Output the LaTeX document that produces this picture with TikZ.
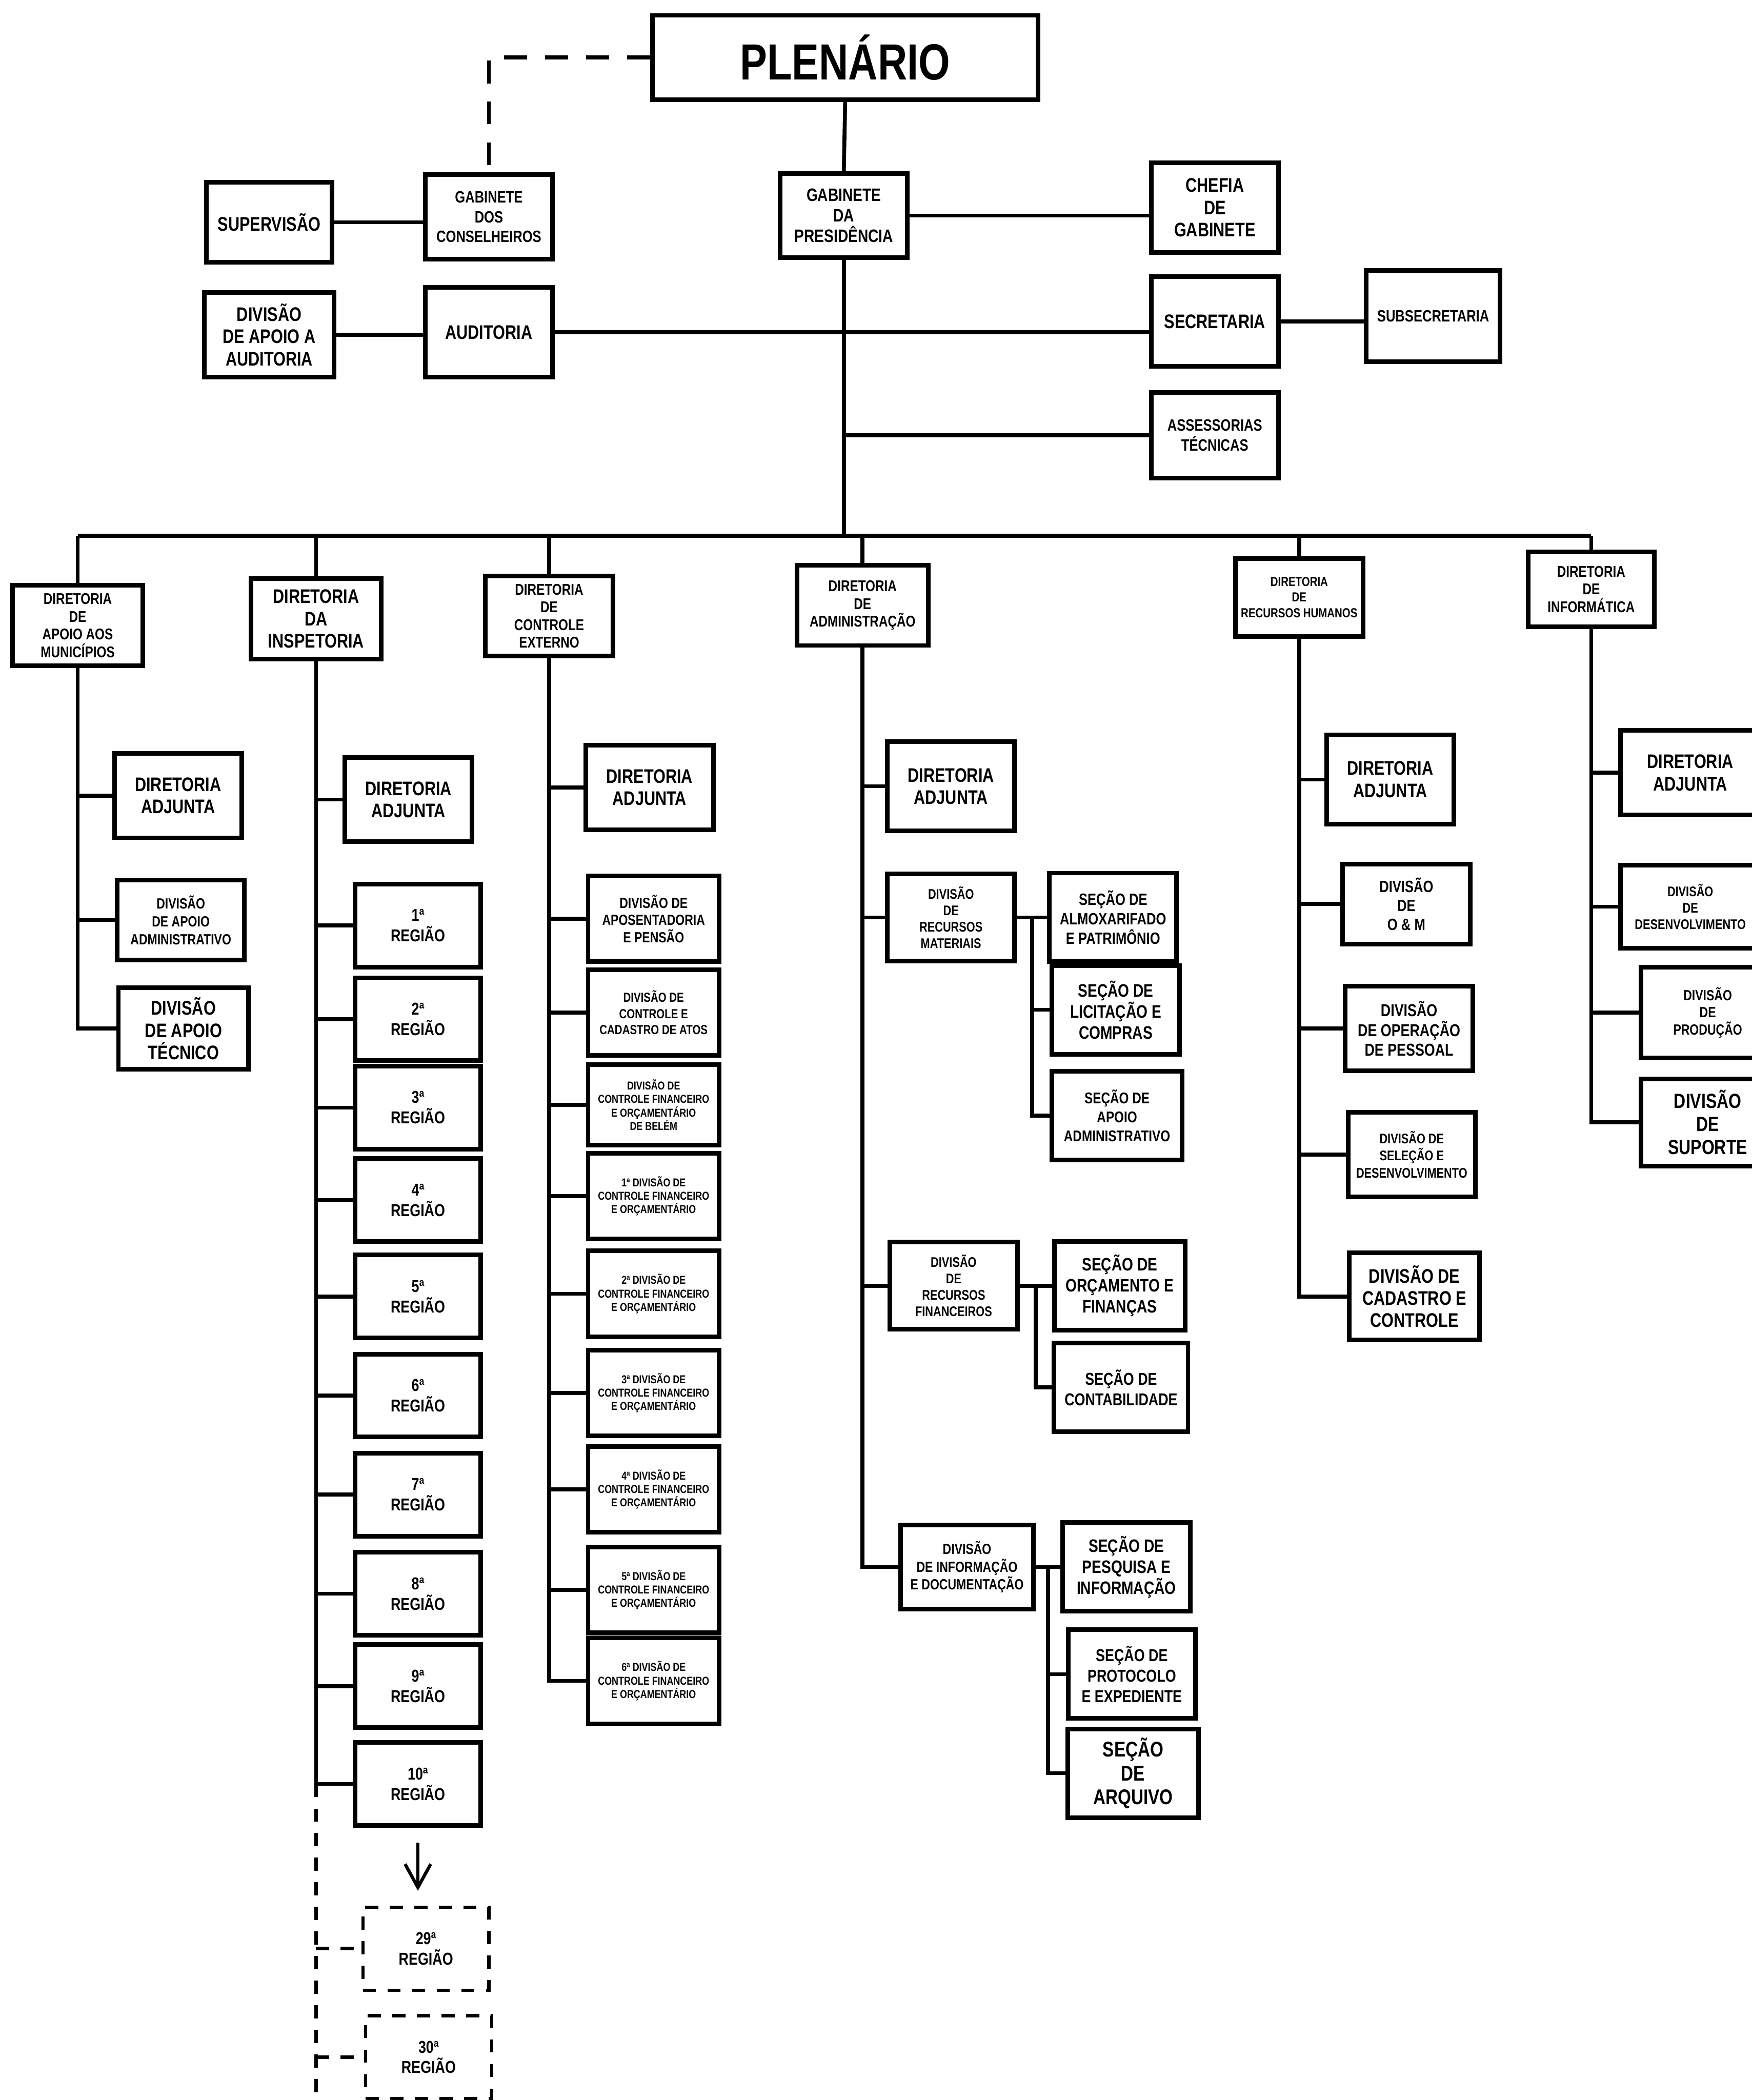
\documentclass[tikz,border=0pt]{standalone}
\usepackage{fontspec}
\setmainfont[FakeStretch=0.8]{Liberation Sans}
\usetikzlibrary{arrows.meta, positioning, calc}

\begin{document}
\begin{tikzpicture}[
    x=0.02872cm, y=-0.02872cm,
    >={Straight Barb[length=5mm, width=5.5mm]},
    orgbox/.style={draw, line width=2.8pt, minimum width=2.73cm, minimum height=1.81cm, inner sep=1pt, align=center, font=\bfseries\fontsize{12}{13.5}\selectfont},
    dirbox/.style={orgbox, minimum height=1.72cm, font=\bfseries\fontsize{9.5}{10.8}\selectfont},
    regbox/.style={orgbox, minimum width=2.70cm, minimum height=1.78cm, font=\bfseries\fontsize{10.5}{12.5}\selectfont},
    ghostbox/.style={regbox, line width=2pt, dash pattern=on 8pt off 7pt},
    finbox/.style={orgbox, minimum width=2.81cm, minimum height=1.84cm, font=\bfseries\fontsize{7}{8.2}\selectfont},
    secbox/.style={orgbox, minimum height=1.9cm, font=\bfseries\fontsize{11}{12.8}\selectfont},
    link/.style={line width=2.4pt},
    ghostlink/.style={line width=2.2pt, dash pattern=on 8pt off 7pt},
]
    \fill[white] (0,0) rectangle (1308,1568);
    \useasboundingbox (0,0) rectangle (1308,1568);

    % top of the chart
    \node[orgbox, minimum width=8.27cm, font=\bfseries\fontsize{31}{33}\selectfont] (plen) at (631,43) {PLENÁRIO};
    \node[orgbox, font=\bfseries\fontsize{11}{12.5}\selectfont] (gabpres) at (630,161) {GABINETE\\DA\\PRESIDÊNCIA};
    \node[orgbox, minimum height=1.92cm] (chefia) at (907,155) {CHEFIA\\DE\\GABINETE};
    \node[orgbox, minimum width=2.70cm, minimum height=1.72cm] (superv) at (201,166) {SUPERVISÃO};
    \node[orgbox, font=\bfseries\fontsize{10}{12}\selectfont] (gabcons) at (365,162) {GABINETE\\DOS\\CONSELHEIROS};
    \node[orgbox, minimum width=2.79cm] (divaud) at (201,250) {DIVISÃO\\DE APOIO A\\AUDITORIA};
    \node[orgbox, minimum height=1.92cm] (audit) at (365,248) {AUDITORIA};
    \node[orgbox, minimum height=1.92cm] (secret) at (907,240) {SECRETARIA};
    \node[orgbox, minimum width=2.87cm, minimum height=1.95cm, font=\bfseries\fontsize{10}{12}\selectfont] (subsec) at (1070,236) {SUBSECRETARIA};
    \node[orgbox, minimum height=1.84cm, font=\bfseries\fontsize{10}{12}\selectfont] (assess) at (907,325) {ASSESSORIAS\\TÉCNICAS};

    \draw[link, dash pattern=on 14pt off 11pt] (plen.west) -| (gabcons.north);
    \draw[link] (plen.south) -- (gabpres.north);
    \draw[link] (gabpres.east) -- (gabpres.east -| chefia.west);
    \draw[link] (superv.east) -- (superv.east -| gabcons.west);
    \draw[link] (divaud.east) -- (divaud.east -| audit.west);
    \draw[link] (audit.east) -- (audit.east -| secret.west);
    \draw[link] (secret.east) -- (secret.east -| subsec.west);
    \draw[link] (assess.west -| gabpres.south) -- (assess.west);

    % directorates
    \coordinate (busL) at (58,400);
    \coordinate (busR) at (1188,400);
    \draw[link] (gabpres.south) -- (gabpres.south |- busL);
    \draw[link] (busL) -- (busR);

    \node[dirbox, minimum width=2.79cm] (dam) at (58,467) {DIRETORIA\\DE\\APOIO AOS\\MUNICÍPIOS};
    \node[dirbox, minimum width=2.79cm, font=\bfseries\fontsize{12}{13.5}\selectfont] (dins) at (236,462) {DIRETORIA\\DA\\INSPETORIA};
    \node[dirbox] (dce) at (410,460) {DIRETORIA\\DE\\CONTROLE\\EXTERNO};
    \node[dirbox, minimum width=2.81cm] (dadm) at (644,452) {DIRETORIA\\DE\\ADMINISTRAÇÃO};
    \node[dirbox, minimum height=1.67cm, font=\bfseries\fontsize{8}{9.5}\selectfont] (drh) at (970,446) {DIRETORIA\\DE\\RECURSOS HUMANOS};
    \node[dirbox, minimum width=2.70cm, minimum height=1.61cm] (dinf) at (1188,440) {DIRETORIA\\DE\\INFORMÁTICA};
    \foreach \d in {dam, dins, dce, dadm, drh, dinf}
        \draw[link] (\d.north) -- (\d.north |- busL);

    % apoio aos municipios
    \node[orgbox] (adj1) at (133,594) {DIRETORIA\\ADJUNTA};
    \node[orgbox, minimum height=1.72cm, font=\bfseries\fontsize{9}{11}\selectfont] (apadm1) at (135,687) {DIVISÃO\\DE APOIO\\ADMINISTRATIVO};
    \node[orgbox, minimum width=2.79cm, minimum height=1.75cm] (aptec1) at (137,768) {DIVISÃO\\DE APOIO\\TÉCNICO};
    \foreach \c in {adj1, apadm1, aptec1}
        \draw[link] (dam.south) |- (\c.west);

    % inspetoria
    \node[orgbox] (adj2) at (305,597) {DIRETORIA\\ADJUNTA};
    \draw[link] (dins.south) |- (adj2.west);
    \foreach \n/\y in {1/691, 2/761, 3/827, 4/896, 5/968, 6/1042, 7/1116, 8/1190, 9/1259, 10/1332} {
        \node[regbox] (reg\n) at (312,\y) {{\n}ª\\REGIÃO};
        \draw[link] (dins.south) |- (reg\n.west);
    }
    \coordinate (insEnd) at (236,1568);
    \node[ghostbox] (reg29) at (318,1455) {29ª\\REGIÃO};
    \node[ghostbox] (reg30) at (320,1536) {30ª\\REGIÃO};
    \draw[ghostlink] (reg10.west -| insEnd) -- (insEnd);
    \draw[ghostlink] (reg29.west -| insEnd) -- (reg29.west);
    \draw[ghostlink] (reg30.west -| insEnd) -- (reg30.west);
    \draw[->, line width=2pt, shorten <=9pt, shorten >=9pt] (reg10.south) -- (reg10.south |- reg29.north);

    % controle externo
    \node[orgbox] (adj3) at (485,588) {DIRETORIA\\ADJUNTA};
    \node[finbox, font=\bfseries\fontsize{9}{10.5}\selectfont] (apos3) at (488,686) {DIVISÃO DE\\APOSENTADORIA\\E PENSÃO};
    \node[finbox, font=\bfseries\fontsize{8}{9.8}\selectfont] (cad3) at (488,756) {DIVISÃO DE\\CONTROLE E\\CADASTRO DE ATOS};
    \node[finbox, minimum height=1.72cm] (bel3) at (488,825) {DIVISÃO DE\\CONTROLE FINANCEIRO\\E ORÇAMENTÁRIO\\DE BELÉM};
    \foreach \c in {adj3, apos3, cad3, bel3}
        \draw[link] (dce.south) |- (\c.west);
    \foreach \n/\y in {1/893, 2/966, 3/1040, 4/1112, 5/1187, 6/1255} {
        \node[finbox] (fin\n) at (488,\y) {{\n}ª DIVISÃO DE\\CONTROLE FINANCEIRO\\E ORÇAMENTÁRIO};
        \draw[link] (dce.south) |- (fin\n.west);
    }

    % administracao
    \node[orgbox, minimum height=1.92cm] (adj4) at (710,587) {DIRETORIA\\ADJUNTA};
    \node[orgbox, minimum height=1.87cm, font=\bfseries\fontsize{8.5}{10}\selectfont] (mat4) at (710,685) {DIVISÃO\\DE\\RECURSOS\\MATERIAIS};
    \node[orgbox, minimum height=1.87cm, font=\bfseries\fontsize{8.5}{10}\selectfont] (fin4) at (712,960) {DIVISÃO\\DE\\RECURSOS\\FINANCEIROS};
    \node[orgbox, minimum width=2.84cm, font=\bfseries\fontsize{9}{10.8}\selectfont] (doc4) at (722,1170) {DIVISÃO\\DE INFORMAÇÃO\\E DOCUMENTAÇÃO};
    \foreach \c in {adj4, mat4, fin4, doc4}
        \draw[link] (dadm.south) |- (\c.west);

    \node[secbox, font=\bfseries\fontsize{10}{12}\selectfont] (alm4) at (831,685) {SEÇÃO DE\\ALMOXARIFADO\\E PATRIMÔNIO};
    \node[secbox] (lic4) at (833,754) {SEÇÃO DE\\LICITAÇÃO E\\COMPRAS};
    \node[secbox, minimum width=2.79cm, font=\bfseries\fontsize{9.5}{11.5}\selectfont] (apo4) at (834,833) {SEÇÃO DE\\APOIO\\ADMINISTRATIVO};
    \draw[link] (mat4.east) -- (alm4.west);
    \draw[link] ($(mat4.east)!0.5!(alm4.west)$) |- (lic4.west);
    \draw[link] ($(mat4.east)!0.5!(alm4.west)$) |- (apo4.west);

    \node[secbox, minimum width=2.81cm] (orc4) at (836,960) {SEÇÃO DE\\ORÇAMENTO E\\FINANÇAS};
    \node[secbox, minimum width=2.87cm, font=\bfseries\fontsize{10.5}{12.5}\selectfont] (cont4) at (837,1036) {SEÇÃO DE\\CONTABILIDADE};
    \draw[link] (fin4.east) -- (orc4.west);
    \draw[link] ($(fin4.east)!0.5!(orc4.west)$) |- (cont4.west);

    \node[secbox] (pes4) at (841,1170) {SEÇÃO DE\\PESQUISA E\\INFORMAÇÃO};
    \node[secbox, font=\bfseries\fontsize{10.5}{12.5}\selectfont] (pro4) at (845,1250) {SEÇÃO DE\\PROTOCOLO\\E EXPEDIENTE};
    \node[secbox, minimum width=2.81cm, font=\bfseries\fontsize{13}{14.5}\selectfont] (arq4) at (846,1324) {SEÇÃO\\DE\\ARQUIVO};
    \draw[link] (doc4.east) -- (pes4.west);
    \draw[link] ($(doc4.east)!0.5!(pes4.west)$) |- (pro4.west);
    \draw[link] ($(doc4.east)!0.5!(pes4.west)$) |- (arq4.west);

    % recursos humanos
    \node[orgbox, minimum height=1.92cm] (adj5) at (1038,582) {DIRETORIA\\ADJUNTA};
    \node[orgbox, minimum height=1.72cm, font=\bfseries\fontsize{10}{11.5}\selectfont] (om5) at (1050,675) {DIVISÃO\\DE\\O \& M};
    \node[orgbox, font=\bfseries\fontsize{10.5}{12}\selectfont] (ope5) at (1052,768) {DIVISÃO\\DE OPERAÇÃO\\DE PESSOAL};
    \node[orgbox, font=\bfseries\fontsize{8.5}{10.5}\selectfont] (sel5) at (1054,862) {DIVISÃO DE\\SELEÇÃO E\\DESENVOLVIMENTO};
    \node[orgbox, minimum width=2.79cm, minimum height=1.87cm] (cad5) at (1056,968) {DIVISÃO DE\\CADASTRO E\\CONTROLE};
    \foreach \c in {adj5, om5, ope5, sel5, cad5}
        \draw[link] (drh.south) |- (\c.west);

    % informatica
    \node[orgbox, minimum width=2.99cm] (adj6) at (1262,577) {DIRETORIA\\ADJUNTA};
    \node[orgbox, minimum width=2.99cm, minimum height=1.78cm, font=\bfseries\fontsize{8.5}{10}\selectfont] (des6) at (1262,677) {DIVISÃO\\DE\\DESENVOLVIMENTO};
    \node[orgbox, minimum width=2.87cm, minimum height=1.95cm, font=\bfseries\fontsize{9}{10.5}\selectfont] (pro6) at (1275,756) {DIVISÃO\\DE\\PRODUÇÃO};
    \node[orgbox, minimum width=2.87cm, minimum height=1.87cm, font=\bfseries\fontsize{12.5}{14}\selectfont] (sup6) at (1275,838) {DIVISÃO\\DE\\SUPORTE};
    \foreach \c in {adj6, des6, pro6, sup6}
        \draw[link] (dinf.south) |- (\c.west);
\end{tikzpicture}
\end{document}
